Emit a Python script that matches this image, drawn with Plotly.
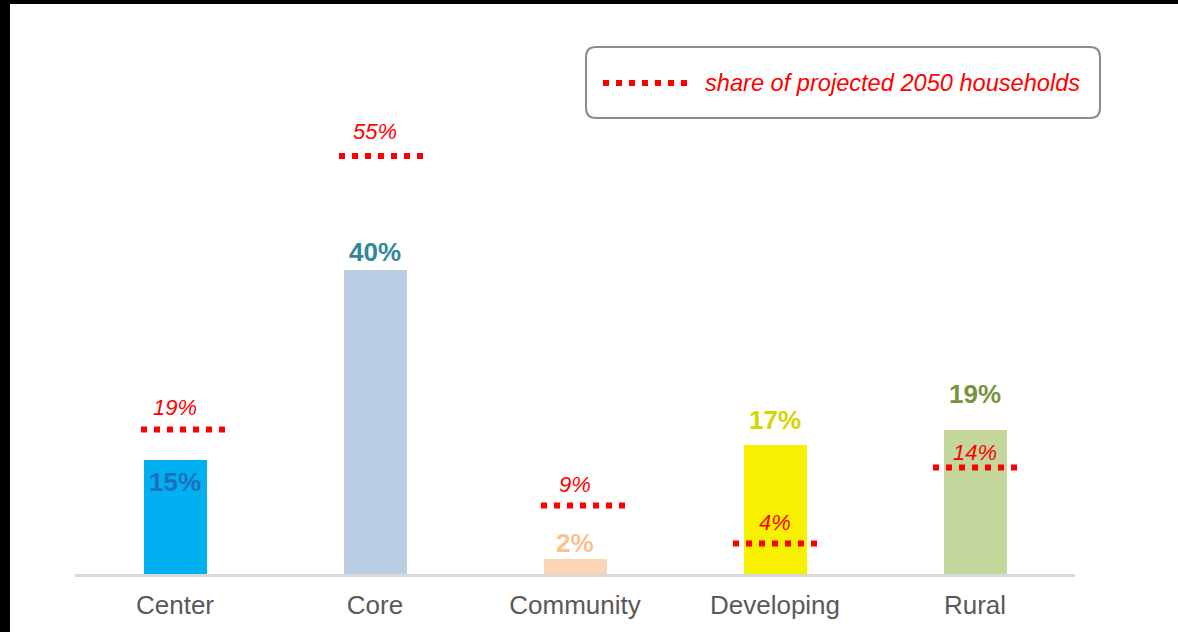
import plotly.graph_objects as go

# ---- data ----
categories = ["Center", "Core", "Community", "Developing", "Rural"]
current_share = [15, 40, 2, 17, 19]          # bars (%)
projected_2050_share = [19, 55, 9, 4, 14]    # dotted markers (%)
legend_text = "share of projected 2050 households"

# ---- styles ----
bar_colors = ["#00B0F0", "#B9CDE5", "#FBD5B5", "#F7F000", "#C3D69B"]
value_label_colors = ["#1F6EBE", "#31859C", "#FAC090", "#D4D400", "#77933C"]
value_label_shift = [-22, 18, 16, 25, 36]     # px, relative to bar top
proj_label_shift = [22, 25, 21, 21, 15]       # px, relative to dotted line
proj_line_center_off = [0.045, 0.035, 0.045, 0.005, 0.005]
proj_line_half = 0.215
RED = "#FF0000"
FONT = "Liberation Sans, Arial, sans-serif"

# plot area geometry (px)
L, R, T, B = 75, 103, 5, 58
W, H = 1178, 632
PW, PH = W - L - R, H - T - B
AXIS_Y = H - B
Y_MAX = PH / 7.6


def px_x(p):
    return (p - L) / PW


def px_y(p):
    return (AXIS_Y - p) / PH


xs = list(range(len(categories)))

fig = go.Figure()
fig.add_trace(go.Bar(
    x=xs, y=current_share, width=0.315,
    marker=dict(color=bar_colors, line=dict(width=0)),
    hoverinfo="skip", showlegend=False,
))

# dotted projected-share segments
lx, ly = [], []
for i, v in enumerate(projected_2050_share):
    c = xs[i] + proj_line_center_off[i]
    lx += [c - proj_line_half, c + proj_line_half, None]
    ly += [v, v, None]
fig.add_trace(go.Scatter(
    x=lx, y=ly, mode="lines",
    line=dict(color=RED, width=6, dash="6px,7px"),
    hoverinfo="skip", showlegend=False,
))

annotations = []
for i in range(len(categories)):
    annotations.append(dict(
        x=xs[i], y=current_share[i], xref="x", yref="y",
        text=f"<b>{current_share[i]}%</b>", showarrow=False,
        yanchor="middle", yshift=value_label_shift[i],
        font=dict(family=FONT, size=26, color=value_label_colors[i]),
    ))
    annotations.append(dict(
        x=xs[i], y=projected_2050_share[i], xref="x", yref="y",
        text=f"<i>{projected_2050_share[i]}%</i>", showarrow=False,
        yanchor="middle", yshift=proj_label_shift[i],
        font=dict(family=FONT, size=22, color=RED),
    ))

# legend text
annotations.append(dict(
    x=px_x(703), y=px_y(83), xref="paper", yref="paper",
    text=f"<i>{legend_text}</i>", showarrow=False,
    xanchor="left", yanchor="middle",
    font=dict(family=FONT, size=23.6, color=RED),
))

# legend rounded box
x0, x1 = px_x(586), px_x(1100)
y0, y1 = px_y(118), px_y(47)
rx, ry = 10 / PW, 10 / PH
path = (f"M {x0+rx},{y1} L {x1-rx},{y1} Q {x1},{y1} {x1},{y1-ry} "
        f"L {x1},{y0+ry} Q {x1},{y0} {x1-rx},{y0} "
        f"L {x0+rx},{y0} Q {x0},{y0} {x0},{y0+ry} "
        f"L {x0},{y1-ry} Q {x0},{y1} {x0+rx},{y1} Z")
shapes = [
    dict(type="path", xref="paper", yref="paper", path=path,
         line=dict(color="#8C8C8C", width=2), fillcolor="rgba(0,0,0,0)"),
    dict(type="line", xref="paper", yref="paper",
         x0=px_x(603), x1=px_x(690), y0=px_y(83), y1=px_y(83),
         line=dict(color=RED, width=6, dash="6px,7px")),
    # black frame strips (left and top)
    dict(type="rect", xref="paper", yref="paper",
         x0=px_x(0), x1=px_x(10), y0=px_y(H), y1=px_y(0),
         fillcolor="black", line=dict(width=0), layer="above"),
    dict(type="rect", xref="paper", yref="paper",
         x0=px_x(0), x1=px_x(W), y0=px_y(4), y1=px_y(0),
         fillcolor="black", line=dict(width=0), layer="above"),
]

fig.update_layout(
    width=W, height=H,
    margin=dict(l=L, r=R, t=T, b=B, pad=0),
    paper_bgcolor="white", plot_bgcolor="white",
    showlegend=False,
    annotations=annotations,
    shapes=shapes,
    bargap=0,
    xaxis=dict(
        range=[-0.5, len(categories) - 0.5],
        tickmode="array", tickvals=xs, ticktext=categories,
        showgrid=False, zeroline=False,
        showline=True, linecolor="#D9D9D9", linewidth=3,
        ticks="", tickfont=dict(family=FONT, size=26, color="#595959"),
        ticklabelstandoff=6, fixedrange=True,
    ),
    yaxis=dict(
        range=[0, Y_MAX], visible=False, showgrid=False,
        zeroline=False, fixedrange=True,
    ),
)

fig.write_html(
    "out.html",
    config={"displayModeBar": False},
    post_script="document.body.style.margin='0';document.body.style.overflow='hidden';",
)
